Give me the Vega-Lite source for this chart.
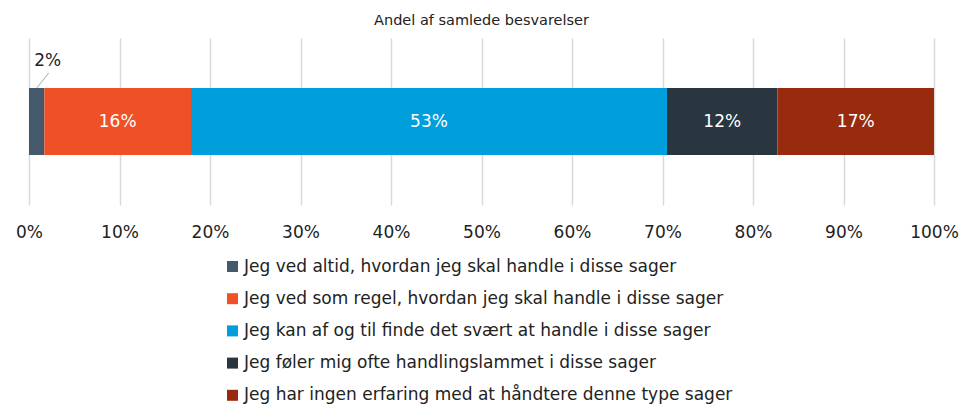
{
  "$schema": "https://vega.github.io/schema/vega-lite/v6.json",
  "width": 905,
  "height": 167,
  "autosize": {"type": "none"},
  "padding": {"left": 29, "top": 38, "right": 26, "bottom": 202},
  "title": {"text": "Andel af samlede besvarelser", "font": "DejaVu Sans", "fontSize": 14.5, "fontWeight": "normal", "color": "#222222", "offset": 10},
  "config": {"view": {"stroke": null}, "font": "DejaVu Sans"},
  "data": {
    "values": [
      {"svar": "Jeg ved altid, hvordan jeg skal handle i disse sager", "andel": 0.017, "orden": 1},
      {"svar": "Jeg ved som regel, hvordan jeg skal handle i disse sager", "andel": 0.162, "orden": 2},
      {"svar": "Jeg kan af og til finde det svært at handle i disse sager", "andel": 0.526, "orden": 3},
      {"svar": "Jeg føler mig ofte handlingslammet i disse sager", "andel": 0.122, "orden": 4},
      {"svar": "Jeg har ingen erfaring med at håndtere denne type sager", "andel": 0.173, "orden": 5}
    ]
  },
  "transform": [
    {"stack": "andel", "groupby": [], "sort": [{"field": "orden", "order": "ascending"}], "as": ["start", "slut"]},
    {"calculate": "(datum.start + datum.slut) / 2", "as": "midt"}
  ],
  "layer": [
    {
      "mark": {"type": "bar"},
      "encoding": {
        "x": {
          "field": "start", "type": "quantitative",
          "scale": {"domain": [0, 1]},
          "axis": {
            "title": null, "format": ".0%", "values": [0, 0.1, 0.2, 0.3, 0.4, 0.5, 0.6, 0.7, 0.8, 0.9, 1],
            "grid": true, "gridColor": "#d9d9d9", "gridWidth": 1.5, "ticks": false, "domain": false,
            "labelFontSize": 17, "labelColor": "#222222", "labelPadding": 19, "labelFlush": false, "labelOverlap": false
          }
        },
        "x2": {"field": "slut"},
        "y": {"datum": 0.3, "type": "quantitative", "scale": {"domain": [0, 1]}, "axis": null},
        "y2": {"datum": 0.7},
        "color": {
          "field": "svar", "type": "nominal",
          "scale": {
            "domain": [
              "Jeg ved altid, hvordan jeg skal handle i disse sager",
              "Jeg ved som regel, hvordan jeg skal handle i disse sager",
              "Jeg kan af og til finde det svært at handle i disse sager",
              "Jeg føler mig ofte handlingslammet i disse sager",
              "Jeg har ingen erfaring med at håndtere denne type sager"
            ],
            "range": ["#44596A", "#F05025", "#009EDB", "#29363F", "#982B0E"]
          },
          "legend": {
            "title": null, "orient": "none", "legendX": 195, "legendY": 220,
            "symbolType": "square", "symbolSize": 121, "symbolStrokeWidth": 0,
            "labelFontSize": 17, "labelColor": "#222222", "labelOffset": 3, "labelLimit": 0,
            "rowPadding": 14.2, "padding": 0
          }
        }
      }
    },
    {
      "transform": [{"filter": "datum.andel >= 0.05"}],
      "mark": {"type": "text", "color": "white", "fontSize": 17, "baseline": "middle", "align": "center"},
      "encoding": {
        "x": {"field": "midt", "type": "quantitative"},
        "y": {"datum": 0.5, "type": "quantitative"},
        "text": {"field": "andel", "type": "quantitative", "format": ".0%"}
      }
    },
    {
      "transform": [{"filter": "datum.andel < 0.05"}],
      "mark": {"type": "rule", "color": "#a6a6a6", "strokeWidth": 1, "x2Offset": 12},
      "encoding": {
        "x": {"field": "midt", "type": "quantitative"},
        "x2": {"field": "midt"},
        "y": {"datum": 0.7, "type": "quantitative"},
        "y2": {"datum": 0.79}
      }
    },
    {
      "transform": [{"filter": "datum.andel < 0.05"}],
      "mark": {"type": "text", "color": "#222222", "fontSize": 17, "baseline": "middle", "align": "center", "dx": 11},
      "encoding": {
        "x": {"field": "midt", "type": "quantitative"},
        "y": {"datum": 0.862, "type": "quantitative"},
        "text": {"field": "andel", "type": "quantitative", "format": ".0%"}
      }
    }
  ]
}
